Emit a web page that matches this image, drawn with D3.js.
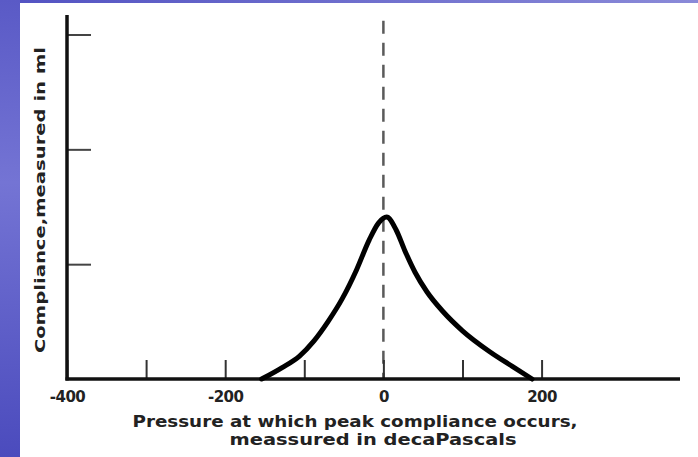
<!DOCTYPE html>
<html><head><meta charset="utf-8">
<script src="https://cdn.jsdelivr.net/npm/d3@7"></script>
<style>html,body{margin:0;padding:0;background:#fff;overflow:hidden}</style>
</head><body>
<svg id="c" width="698" height="457"></svg>
<script>
// Data
const pressure   = [-154, -128, -106, -88, -70, -52, -34, -18, -6, 4, 16, 27, 40, 55, 75, 100, 134, 163, 188];
const compliance = [0, 0.10, 0.20, 0.33, 0.50, 0.70, 0.95, 1.21, 1.36, 1.41, 1.30, 1.12, 0.93, 0.76, 0.59, 0.42, 0.24, 0.11, 0];
const xTicks = [-400, -300, -200, -100, 0, 100, 200];
const xTickLabels = ["-400", "", "-200", "", "0", "", "200"];
const yTicks = [1, 2, 3];
const xTitle = ["Pressure at which peak compliance occurs,", "meassured in decaPascals"];
const yTitle = "Compliance,measured in ml";

const svg = d3.select("#c");
const defs = svg.append("defs");
const gl = defs.append("linearGradient").attr("id","gl").attr("x1",0).attr("y1",0).attr("x2",0).attr("y2",1);
gl.append("stop").attr("offset","0%").attr("stop-color","#5a5ac6");
gl.append("stop").attr("offset","40%").attr("stop-color","#7474d4");
gl.append("stop").attr("offset","100%").attr("stop-color","#4b4bbd");
const gt = defs.append("linearGradient").attr("id","gt").attr("x1",0).attr("y1",0).attr("x2",1).attr("y2",0);
gt.append("stop").attr("offset","0%").attr("stop-color","#5252c2");
gt.append("stop").attr("offset","100%").attr("stop-color","#8a8ad8");

svg.append("rect").attr("x",0).attr("y",0).attr("width",698).attr("height",457).attr("fill","#fff");
svg.append("rect").attr("x",0).attr("y",0).attr("width",698).attr("height",3).attr("fill","url(#gt)");
svg.append("rect").attr("x",0).attr("y",0).attr("width",20).attr("height",457).attr("fill","url(#gl)");

const x = d3.scaleLinear().domain([-400, 375]).range([67, 680]);
const y = d3.scaleLinear().domain([0, 3.17]).range([379, 15]);

// dashed reference line at 0
svg.append("line").attr("x1",x(0)).attr("x2",x(0)).attr("y1",y(3.12)).attr("y2",y(0))
  .attr("stroke","#5a5a5a").attr("stroke-width",2.5).attr("stroke-dasharray","13,9");

// y axis ticks
const yAxis = svg.append("g").attr("transform",`translate(${x(-400)},0)`)
  .call(d3.axisRight(y).tickValues(yTicks).tickSize(24).tickFormat(""));
yAxis.select(".domain").remove();
yAxis.selectAll(".tick line").attr("stroke","#444").attr("stroke-width",2);

// x axis ticks + labels
const xAxis = svg.append("g").attr("transform",`translate(0,${y(0)})`)
  .call(d3.axisBottom(x).tickValues(xTicks).tickSizeInner(-19).tickSizeOuter(0).tickPadding(12)
    .tickFormat((d,i)=>xTickLabels[i]));
xAxis.select(".domain").remove();
xAxis.selectAll(".tick line").attr("stroke","#333").attr("stroke-width",2);
xAxis.selectAll(".tick text").attr("fill","#222").attr("font-family","DejaVu Sans")
  .attr("font-weight","bold").attr("font-size",15).attr("letter-spacing","-0.5");

// axis spines
svg.append("line").attr("x1",x(-400)).attr("x2",x(-400)).attr("y1",y(3.17)).attr("y2",y(0)+1.5)
  .attr("stroke","#111").attr("stroke-width",3.5);
svg.append("line").attr("x1",x(-400)-1.5).attr("x2",x(375)).attr("y1",y(0)).attr("y2",y(0))
  .attr("stroke","#111").attr("stroke-width",3.5);

// curve
const pts = pressure.map((p,i)=>[p, compliance[i]]);
svg.append("path").datum(pts)
  .attr("d", d3.line().x(d=>x(d[0])).y(d=>y(d[1])).curve(d3.curveMonotoneX))
  .attr("fill","none").attr("stroke","#000").attr("stroke-width",5).attr("stroke-linecap","round")
  .attr("stroke-linejoin","round");

// titles
svg.append("text").attr("x",355).attr("y",427).attr("text-anchor","middle")
  .attr("font-family","DejaVu Sans").attr("font-weight","bold").attr("font-size",15).attr("fill","#222")
  .attr("textLength",445).attr("lengthAdjust","spacingAndGlyphs").text(xTitle[0]);
svg.append("text").attr("x",373).attr("y",445).attr("text-anchor","middle")
  .attr("font-family","DejaVu Sans").attr("font-weight","bold").attr("font-size",15).attr("fill","#222")
  .attr("textLength",287).attr("lengthAdjust","spacingAndGlyphs").text(xTitle[1]);
svg.append("text").attr("transform","translate(45,200) rotate(-90)").attr("text-anchor","middle")
  .attr("font-family","DejaVu Sans").attr("font-weight","bold").attr("font-size",14).attr("fill","#222")
  .attr("textLength",306).attr("lengthAdjust","spacingAndGlyphs").text(yTitle);
</script>
</body></html>
